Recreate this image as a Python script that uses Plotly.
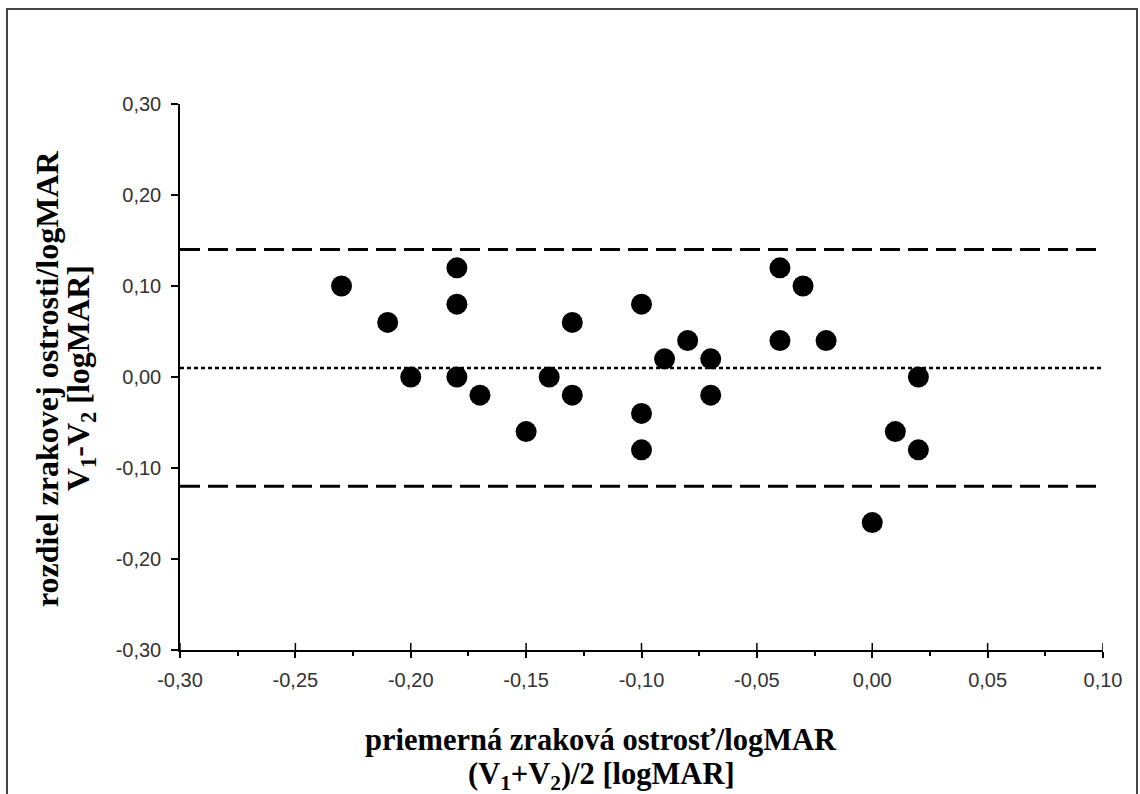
import plotly.graph_objects as go

# Bland-Altman data: mean of two measurements vs. their difference (logMAR)
mean_va = [-0.23, -0.21, -0.20, -0.18, -0.18, -0.18, -0.17, -0.15, -0.14,
           -0.13, -0.13, -0.10, -0.10, -0.10, -0.09, -0.08, -0.07, -0.07,
           -0.04, -0.04, -0.03, -0.02, 0.00, 0.01, 0.02, 0.02]
diff_va = [0.10, 0.06, 0.00, 0.12, 0.08, 0.00, -0.02, -0.06, 0.00,
           0.06, -0.02, 0.08, -0.04, -0.08, 0.02, 0.04, 0.02, -0.02,
           0.12, 0.04, 0.10, 0.04, -0.16, -0.06, 0.00, -0.08]

# mean difference and limits of agreement
mean_diff = 0.01
upper_loa = 0.14
lower_loa = -0.12

x_range = [-0.30, 0.10]
y_range = [-0.30, 0.30]
x_ticks = [-0.30, -0.25, -0.20, -0.15, -0.10, -0.05, 0.00, 0.05, 0.10]
y_ticks = [-0.30, -0.20, -0.10, 0.00, 0.10, 0.20, 0.30]

x_title_1 = "priemerná zraková ostrosť/logMAR"
x_title_2 = "(V<sub>1</sub>+V<sub>2</sub>)/2 [logMAR]"
y_title_1 = "rozdiel zrakovej ostrosti/logMAR"
y_title_2 = "V<sub>1</sub>-V<sub>2</sub> [logMAR]"


def comma_label(v):
    # decimal comma and a plain hyphen for negatives
    return f"{v:.2f}".replace(".", ",")


W, H = 1140, 794
L, R, T, B = 180, 37, 104, 144
pw, ph = W - L - R, H - T - B


def px_x(p):
    return (p - L) / pw


def px_y(p):
    return (H - B - p) / ph


fig = go.Figure()

for val, dash, width in [(upper_loa, "20px,8px", 3),
                         (lower_loa, "20px,8px", 3),
                         (mean_diff, "4px,3px", 2.5)]:
    fig.add_trace(go.Scatter(
        x=x_range, y=[val, val], mode="lines",
        line=dict(color="black", width=width, dash=dash),
        hoverinfo="skip", showlegend=False))

fig.add_trace(go.Scatter(
    x=mean_va, y=diff_va, mode="markers",
    marker=dict(size=21, color="black", line=dict(width=0)),
    showlegend=False))

tick_font = dict(family="Liberation Sans, Arial, sans-serif", size=20, color="#333333")
x_title_font = dict(family="Liberation Serif, Times New Roman, serif", size=30.5, color="black")
y_title_font = dict(family="Liberation Serif, Times New Roman, serif", size=32, color="black")

# upper half of the major x ticks (they cross the axis line)
inner_ticks = [dict(type="line", xref="x", yref="paper",
                    x0=v, x1=v, y0=0, y1=7 / ph,
                    line=dict(color="black", width=1.5))
               for v in x_ticks]

frame = dict(type="rect", xref="paper", yref="paper",
             x0=px_x(7), x1=px_x(1137), y0=px_y(830), y1=px_y(9),
             line=dict(color="#444444", width=2), fillcolor="rgba(0,0,0,0)",
             layer="below")

fig.update_layout(
    width=W, height=H,
    margin=dict(l=L, r=R, t=T, b=B, pad=0),
    paper_bgcolor="white", plot_bgcolor="white",
    showlegend=False,
    xaxis=dict(
        range=x_range, tickvals=x_ticks,
        ticktext=[comma_label(v) for v in x_ticks],
        showgrid=False, zeroline=False,
        showline=True, linecolor="black", linewidth=1.5,
        ticks="outside", ticklen=6, tickwidth=1.5, tickcolor="black",
        minor=dict(dtick=0.025, ticks="outside", ticklen=4, tickwidth=1.5,
                   tickcolor="black", showgrid=False),
        tickfont=tick_font, ticklabelstandoff=5,
    ),
    yaxis=dict(
        range=y_range, tickvals=y_ticks,
        ticktext=[comma_label(v) for v in y_ticks],
        showgrid=False, zeroline=False,
        showline=True, linecolor="black", linewidth=1.5,
        ticks="outside", ticklen=7, tickwidth=1.5, tickcolor="black",
        tickfont=tick_font, ticklabelstandoff=6,
    ),
    shapes=[frame] + inner_ticks,
    annotations=[
        dict(text="<b>%s</b>" % x_title_1, xref="paper", yref="paper",
             x=px_x(601), y=px_y(740), showarrow=False, font=x_title_font,
             xanchor="center", yanchor="middle"),
        dict(text="<b>%s</b>" % x_title_2, xref="paper", yref="paper",
             x=px_x(601), y=px_y(776), showarrow=False, font=x_title_font,
             xanchor="center", yanchor="middle"),
        dict(text="<b>%s</b>" % y_title_1, xref="paper", yref="paper",
             x=px_x(47), y=px_y(379), showarrow=False, font=y_title_font,
             textangle=-90, xanchor="center", yanchor="middle"),
        dict(text="<b>%s</b>" % y_title_2, xref="paper", yref="paper",
             x=px_x(80), y=px_y(378), showarrow=False, font=y_title_font,
             textangle=-90, xanchor="center", yanchor="middle"),
    ],
)

fig.write_html("out.html")
